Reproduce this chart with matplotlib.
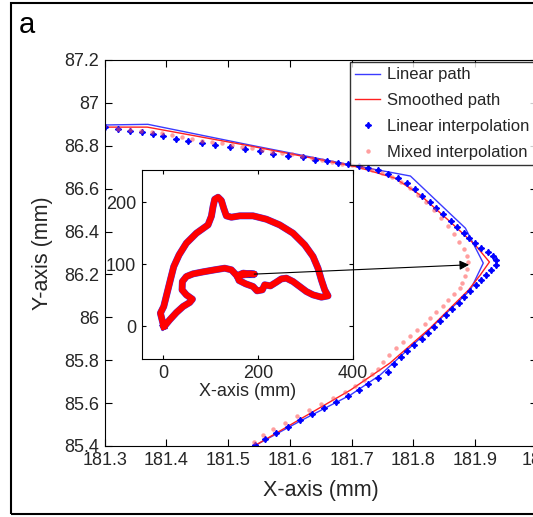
import numpy as np
import matplotlib.pyplot as plt
from matplotlib.patches import Rectangle, ConnectionPatch

plt.rcParams['font.family'] = ['Liberation Sans', 'DejaVu Sans']
txt = '#262626'

# linear path (blue line), main zoom window
lin_x = [181.300, 181.370, 181.536, 181.709, 181.795, 181.884, 181.913,
         181.892, 181.811, 181.746, 181.698, 181.617, 181.542]
lin_y = [86.897, 86.900, 86.803, 86.705, 86.659, 86.416, 86.253,
         86.127, 85.903, 85.731, 85.638, 85.517, 85.400]

# smoothed path (red line)
smo_x = [181.299, 181.369, 181.536, 181.709, 181.770, 181.811, 181.860, 181.900,
         181.923, 181.908, 181.889, 181.827, 181.762, 181.698, 181.617, 181.542]
smo_y = [86.887, 86.887, 86.799, 86.701, 86.649, 86.570, 86.444, 86.337,
         86.258, 86.197, 86.127, 85.950, 85.787, 85.661, 85.526, 85.400]

# linear interpolation points (blue)
li_x = [181.300, 181.322, 181.341, 181.360, 181.378, 181.394, 181.416, 181.435,
        181.458, 181.479, 181.503, 181.527, 181.552, 181.573, 181.597, 181.621,
        181.641, 181.660, 181.678, 181.694, 181.711, 181.727, 181.743, 181.759,
        181.775, 181.790, 181.803, 181.814, 181.826, 181.837, 181.848, 181.860,
        181.871, 181.881, 181.890, 181.900, 181.910, 181.920, 181.928, 181.934,
        181.933, 181.926, 181.918, 181.910, 181.902, 181.892, 181.882, 181.873,
        181.863, 181.853, 181.843, 181.834, 181.824, 181.813, 181.801, 181.790,
        181.779, 181.768, 181.758, 181.743, 181.727, 181.711, 181.694, 181.675,
        181.655, 181.636, 181.617, 181.597, 181.578, 181.560, 181.544]
li_y = [86.887, 86.878, 86.869, 86.864, 86.855, 86.845, 86.831, 86.822,
        86.813, 86.803, 86.794, 86.785, 86.775, 86.761, 86.752, 86.747,
        86.733, 86.729, 86.719, 86.715, 86.705, 86.696, 86.687, 86.668,
        86.649, 86.626, 86.598, 86.566, 86.538, 86.510, 86.482, 86.449,
        86.421, 86.393, 86.370, 86.346, 86.323, 86.304, 86.286, 86.267,
        86.244, 86.221, 86.197, 86.174, 86.151, 86.123, 86.095, 86.067,
        86.039, 86.011, 85.983, 85.955, 85.927, 85.899, 85.871, 85.843,
        85.815, 85.782, 85.745, 85.717, 85.689, 85.661, 85.633, 85.605,
        85.577, 85.549, 85.521, 85.489, 85.461, 85.433, 85.405]

# mixed interpolation points (pink)
mi_x = [181.299, 181.322, 181.341, 181.359, 181.377, 181.393, 181.409, 181.425,
        181.441, 181.458, 181.474, 181.490, 181.506, 181.523, 181.539, 181.555,
        181.571, 181.587, 181.604, 181.620, 181.636, 181.652, 181.668, 181.685,
        181.701, 181.717, 181.733, 181.749, 181.766, 181.780, 181.795, 181.808,
        181.821, 181.834, 181.845, 181.856, 181.866, 181.874, 181.881, 181.886,
        181.889,
        181.887, 181.884, 181.879, 181.876, 181.866, 181.856, 181.847, 181.837,
        181.827, 181.818, 181.806, 181.795, 181.783, 181.772, 181.761, 181.751,
        181.743, 181.733, 181.720, 181.706, 181.689, 181.670, 181.651, 181.631,
        181.612, 181.592, 181.573, 181.557, 181.542]
mi_y = [86.892, 86.878, 86.873, 86.869, 86.864, 86.859, 86.850, 86.841,
        86.831, 86.822, 86.817, 86.813, 86.803, 86.794, 86.789, 86.780,
        86.771, 86.766, 86.761, 86.752, 86.743, 86.733, 86.724, 86.715,
        86.710, 86.701, 86.687, 86.673, 86.654, 86.631, 86.603, 86.570,
        86.538, 86.500, 86.463, 86.426, 86.388, 86.351, 86.318, 86.286,
        86.258,
        86.225, 86.193, 86.160, 86.137, 86.109, 86.081, 86.053, 86.025,
        85.997, 85.969, 85.941, 85.913, 85.885, 85.857, 85.824, 85.792,
        85.759, 85.736, 85.708, 85.680, 85.652, 85.624, 85.596, 85.568,
        85.540, 85.507, 85.479, 85.451, 85.419]

# whole dolphin path for the inset
dol_x = [1.4, -5.6, 1.4, 8.4, 15.4, 22.5, 33.7, 49.1, 70.2, 94.7, 101.8, 105.3,
         108.8, 115.8, 122.8, 127.7, 133.3, 143.9, 161.4, 189.5, 217.5, 245.6, 273.7,
         298.3, 315.8, 326.3, 333.4, 340.4, 347.4, 333.4, 315.8, 301.8, 287.7,
         273.7, 259.7, 249.1, 238.6, 226.0, 214.0, 209.1, 197.9, 189.5, 174.0,
         160.0, 155.8, 168.4, 182.5, 192.0, 182.5, 155.8, 143.9, 129.8, 108.8,
         84.2, 63.2, 49.1, 40.7, 40.0, 49.1, 61.8, 56.1, 42.1, 28.1, 14.0, 3.5, 1.4]
dol_y = [-0.5, 21.0, 31.7, 53.2, 74.7, 96.2, 115.0, 133.9, 150.0, 163.4, 177.4, 193.0,
         204.8, 208.0, 202.7, 190.3, 178.0, 175.8, 178.0, 178.0, 172.6, 163.4, 150.0,
         131.2, 112.4, 93.5, 74.7, 58.6, 48.9, 46.8, 50.5, 55.9, 64.0,
         72.0, 77.4, 76.3, 71.0, 65.0, 66.7, 58.6, 57.0, 64.0, 68.3,
         73.7, 81.2, 85.5, 84.4, 84.0, 84.4, 81.2, 90.9, 93.5, 90.9,
         87.6, 84.4, 80.1, 72.0, 58.6, 50.5, 43.5, 38.2, 31.7, 22.0, 10.2, 0.5, -0.5]

fig = plt.figure(figsize=(5.33, 5.17), dpi=100)

# outer frame round the panel
fig.patches.append(Rectangle((11/533, 3/517), 530/533, 511/517, transform=fig.transFigure,
                             fill=False, lw=1.5, ec='black'))
fig.text(19/533, 1 - 33/517, 'a', fontsize=21, color='black')

ax = fig.add_axes([104.7/533, 71/517, 432.3/533, 386/517])
ax.plot(lin_x, lin_y, color='#3b3bff', lw=1.0, label='Linear path')
ax.plot(smo_x, smo_y, color='#ff2020', lw=1.0, label='Smoothed path')
ax.plot(li_x, li_y, ls='none', marker=(4, 1, 0), ms=4.5, color='#0000ff',
        label='Linear interpolation')
ax.plot(mi_x, mi_y, ls='none', marker='o', ms=3.2, color='#ff5050', alpha=0.55,
        mec='none', label='Mixed interpolation')
ax.set_xlim(181.3, 182.0)
ax.set_ylim(85.4, 87.2)
ax.set_xticks(np.arange(181.3, 182.05, 0.1))
ax.set_xticklabels(['181.3', '181.4', '181.5', '181.6', '181.7', '181.8', '181.9', '182'])
ax.set_yticks(np.arange(85.4, 87.25, 0.2))
ax.set_yticklabels(['85.4', '85.6', '85.8', '86', '86.2', '86.4', '86.6', '86.8', '87', '87.2'])
ax.tick_params(direction='in', top=True, right=True, length=5, labelsize=13,
               labelcolor=txt, pad=4)
ax.set_xlabel('X-axis (mm)', fontsize=15.5, color=txt, labelpad=8)
ax.set_ylabel('Y-axis (mm)', fontsize=15.5, color=txt, labelpad=8)
leg = ax.legend(loc='upper right', fontsize=12, frameon=True, fancybox=False,
                edgecolor='black', borderaxespad=0.15, handlelength=1.5,
                handletextpad=0.4, labelspacing=0.65, borderpad=0.3)
leg.get_frame().set_linewidth(1.0)
for t in leg.get_texts():
    t.set_color(txt)

# inset with the whole dolphin
axin = fig.add_axes([141.7/533, 158/517, 211.3/533, 189/517])
axin.plot(dol_x, dol_y, color='#3b3bff', lw=5.0)
axin.plot(dol_x, dol_y, color='#ff0000', lw=4.5)
axin.add_patch(Rectangle((171, 80), 21, 8, fill=False, ec='black', lw=0.8))
axin.set_xlim(-45, 400)
axin.set_ylim(-53, 252)
axin.set_xticks([0, 200, 400])
axin.set_yticks([0, 100, 200])
axin.tick_params(direction='in', top=True, right=True, length=3, labelsize=13,
                 labelcolor=txt, pad=4)
axin.set_xlabel('X-axis (mm)', fontsize=13, color=txt, labelpad=1)

arrow = ConnectionPatch(xyA=(192, 84), coordsA=axin.transData,
                        xyB=(181.89, 86.245), coordsB=ax.transData,
                        arrowstyle='-|>', mutation_scale=14, lw=0.8, color='black')
fig.add_artist(arrow)

fig.savefig('out.png', dpi=100)
